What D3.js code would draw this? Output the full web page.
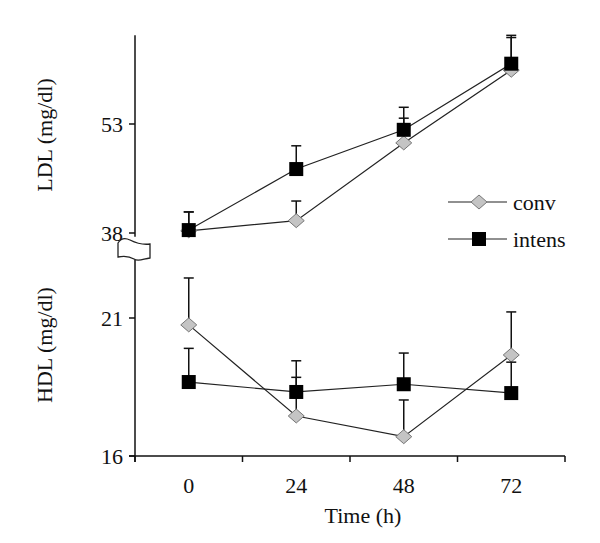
<!DOCTYPE html>
<html><head><meta charset="utf-8">
<script src="https://cdn.jsdelivr.net/npm/d3@7"></script>
<style>body{margin:0;background:#fff}svg{display:block}text{font-family:"Liberation Serif","Times New Roman",serif;fill:#111}</style>
</head><body>
<svg id="c" width="600" height="543"></svg>
<script>
const times = [0, 24, 48, 72];
const ldlConv = [38.3, 39.7, 50.4, 60.4];
const ldlConvErr = [40.9, 42.4, 53.8, 64.9];
const ldlIntens = [38.4, 46.8, 52.2, 61.3];
const ldlIntensErr = [40.9, 50.0, 55.3, 65.2];
const hdlConv = [20.75, 17.45, 16.7, 19.66];
const hdlConvErr = [22.45, 18.85, 18.03, 21.22];
const hdlIntens = [18.68, 18.32, 18.6, 18.28];
const hdlIntensErr = [19.9, 19.45, 19.73, 19.4];
const ldlTicks = [38, 53];
const hdlTicks = [16, 21];
const seriesNames = ["conv", "intens"];

const FS = 22;
const svg = d3.select("#c");
const x = d3.scaleBand().domain(times).range([135, 565]).padding(0);
const yL = d3.scaleLinear().domain([38, 53]).range([233, 124]);
const yH = d3.scaleLinear().domain([16, 21]).range([456, 318]);
const axisColor = "#111";

// x axis
svg.append("line").attr("x1", 129).attr("x2", 565).attr("y1", 456).attr("y2", 456).attr("stroke", axisColor).attr("stroke-width", 1.5);
const bounds = times.map(t => x(t)).concat([x.range()[1]]);
svg.selectAll(".xt").data(bounds).join("line").attr("x1", d => d).attr("x2", d => d).attr("y1", 456).attr("y2", 462).attr("stroke", axisColor).attr("stroke-width", 1.5);
svg.selectAll(".xl").data(times).join("text").attr("x", d => x(d) + x.bandwidth() / 2).attr("y", 493).attr("text-anchor", "middle").attr("font-size", FS).text(d => d);
svg.append("text").attr("x", 363).attr("y", 523).attr("text-anchor", "middle").attr("font-size", FS).text("Time (h)");

// y axes
svg.append("line").attr("x1", 135).attr("x2", 135).attr("y1", yL(65.2)).attr("y2", yL(37.5)).attr("stroke", axisColor).attr("stroke-width", 1.5);
svg.append("line").attr("x1", 135).attr("x2", 135).attr("y1", yH(23.1)).attr("y2", 462).attr("stroke", axisColor).attr("stroke-width", 1.5);
function yTicks(scale, vals) {
  svg.selectAll(null).data(vals).join("line").attr("x1", 129).attr("x2", 135).attr("y1", d => scale(d)).attr("y2", d => scale(d)).attr("stroke", axisColor).attr("stroke-width", 1.5);
  svg.selectAll(null).data(vals).join("text").attr("x", 123).attr("y", d => scale(d)).attr("dy", "0.35em").attr("text-anchor", "end").attr("font-size", FS).text(d => d);
}
yTicks(yL, ldlTicks);
yTicks(yH, hdlTicks);

// axis break symbol
svg.append("path")
  .attr("d", "M118,243 C121,238 126,238 130,240 C136,243 143,245 150,244 L150,258 C143,259 138,262 134,259 C129,256 123,256 118,257 Z")
  .attr("fill", "#fff").attr("stroke", "#222").attr("stroke-width", 1.3);

svg.append("text").attr("transform", "translate(44,135) rotate(-90)").attr("text-anchor", "middle").attr("dy", "0.35em").attr("font-size", FS).text("LDL (mg/dl)");
svg.append("text").attr("transform", "translate(44,345) rotate(-90)").attr("text-anchor", "middle").attr("dy", "0.35em").attr("font-size", FS).text("HDL (mg/dl)");

const cx = t => x(t) + x.bandwidth() / 2;
function diamond(g, px, py) {
  g.append("path").attr("d", `M${px},${py-7}L${px+8},${py}L${px},${py+7}L${px-8},${py}Z`).attr("fill", "#c4c4c4").attr("stroke", "#777").attr("stroke-width", 1);
}
function square(g, px, py) {
  g.append("rect").attr("x", px - 7).attr("y", py - 7).attr("width", 14).attr("height", 14).attr("fill", "#000");
}
function series(vals, errs, scale, kind) {
  const g = svg.append("g");
  const pts = times.map((t, i) => [cx(t), scale(vals[i]), scale(errs[i])]);
  pts.forEach(p => {
    g.append("line").attr("x1", p[0]).attr("x2", p[0]).attr("y1", p[1]).attr("y2", p[2]).attr("stroke", "#111").attr("stroke-width", 1.5);
    g.append("line").attr("x1", p[0] - 5).attr("x2", p[0] + 5).attr("y1", p[2]).attr("y2", p[2]).attr("stroke", "#111").attr("stroke-width", 1.5);
  });
  g.append("path").attr("d", d3.line()(pts.map(p => [p[0], p[1]]))).attr("fill", "none").attr("stroke", "#222").attr("stroke-width", 1.2);
  pts.forEach(p => kind === "d" ? diamond(g, p[0], p[1]) : square(g, p[0], p[1]));
}
series(ldlConv, ldlConvErr, yL, "d");
series(hdlConv, hdlConvErr, yH, "d");
series(ldlIntens, ldlIntensErr, yL, "s");
series(hdlIntens, hdlIntensErr, yH, "s");

// legend
const lg = svg.append("g");
[202, 239].forEach((ly, i) => {
  lg.append("line").attr("x1", 448).attr("x2", 507).attr("y1", ly).attr("y2", ly).attr("stroke", "#222").attr("stroke-width", 1.2);
  if (i === 0) diamond(lg, 479, ly); else square(lg, 479, ly);
  lg.append("text").attr("x", 513).attr("y", ly).attr("dy", "0.35em").attr("font-size", FS).text(seriesNames[i]);
});
</script>
</body></html>
